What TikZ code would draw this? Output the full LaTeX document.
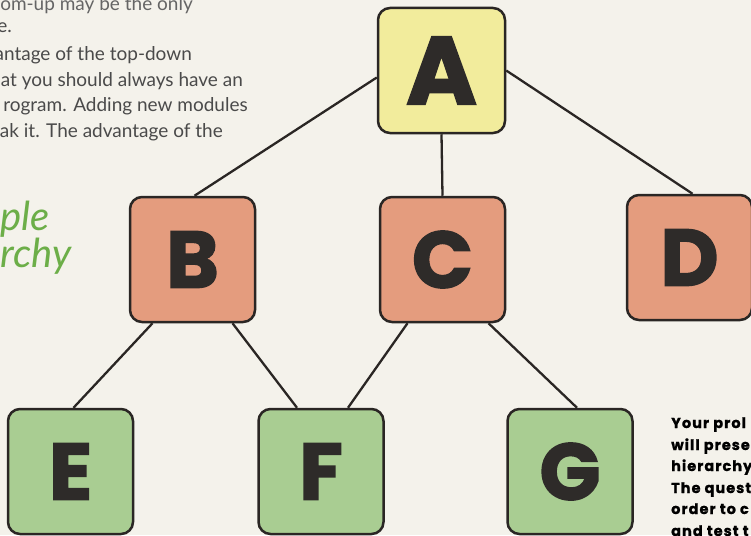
\documentclass[tikz,border=0pt]{standalone}
\usepackage{fontspec}
\setmainfont{Lato}
\newfontfamily\heavy{Poppins}[BoldFeatures={FakeBold=2}]
\newfontfamily\sidefont{Poppins}[LetterSpace=7, BoldFeatures={FakeBold=1}]
\newfontfamily\bodyfont{Lato}
\newfontfamily\titlefont{Lato}
\definecolor{bgcol}{HTML}{F4F2EB}
\definecolor{edgecol}{HTML}{2A2624}
\definecolor{yelfill}{HTML}{F2EC9C}
\definecolor{redfill}{HTML}{E49C7E}
\definecolor{grnfill}{HTML}{A9CD92}
\definecolor{lettercol}{HTML}{2E2B29}
\definecolor{bodycol}{HTML}{4A4A4A}
\definecolor{titlecol}{HTML}{6CAE48}
\tikzset{
  modbox/.style={draw=edgecol, line width=2.5pt, rounded corners=12pt,
    minimum width=125pt, minimum height=125pt, inner sep=0pt,
    text=lettercol, font=\heavy\bfseries\fontsize{80}{80}\selectfont},
  topbox/.style={modbox, fill=yelfill, font=\heavy\bfseries\fontsize{96}{96}\selectfont},
  midbox/.style={modbox, fill=redfill},
  lowbox/.style={modbox, fill=grnfill},
  link/.style={draw=edgecol, line width=2.3pt},
  bodyline/.style={anchor=base east, inner sep=0pt, text=bodycol,
    font=\bodyfont\fontsize{19}{19}\selectfont},
  sideline/.style={anchor=base west, inner sep=0pt, text=black,
    font=\sidefont\bfseries\fontsize{14.5}{14.5}\selectfont},
  titleline/.style={anchor=base east, inner sep=0pt, text=titlecol,
    font=\titlefont\itshape\fontsize{40}{40}\selectfont}
}
\begin{document}
\begin{tikzpicture}[x=1pt, y=-1pt]
\useasboundingbox[fill=bgcol] (0,0) rectangle (751,535);
\clip (0,0) rectangle (751,535);
% body text (cut at left)
\node[bodyline, text=bodycol!85] (t1) at (193,11) {tom-up may be the only};
\node[bodyline] (t2) at (12,33) {e.};
\node[bodyline] (t3) at (192,60) {antage of the top-down};
\node[bodyline] (t4) at (243,86) {at you should always have an};
\node[bodyline] (t5) at (248,111) {rogram. Adding new modules};
\node[bodyline] (t6) at (223,137) {eak it. The advantage of the};
% title
\node[titleline] (h1) at (50,230) {ple};
\node[titleline] (h2) at (72,267) {rchy};
% side text
\node[sideline] (s1) at (671,428) {Your prol};
\node[sideline] (s2) at (671,450) {will prese};
\node[sideline] (s3) at (671,471) {hierarchy};
\node[sideline] (s4) at (671,493) {The quest};
\node[sideline] (s5) at (671,514) {order to c};
\node[sideline] (s6) at (671,536) {and test t};
% boxes
\node[topbox, minimum width=127pt] (A) at (441.5,70.5) {A};
\node[midbox] (B) at (192.5,259.5) {B};
\node[midbox] (C) at (442.5,259.5) {C};
\node[midbox] (D) at (689.5,257.5) {D};
\node[lowbox] (E) at (70.5,471.5) {E};
\node[lowbox] (F) at (321,471.5) {F};
\node[lowbox] (G) at (570,471.5) {G};
% links
\draw[link] ([yshift=-7pt]A.west) -- ([xshift=2pt]B.north);
\draw[link] (A.south) -- (C.north);
\draw[link] (A.east) -- ([xshift=3pt]D.north);
\draw[link] ([xshift=-40pt]B.south) -- ([xshift=3pt]E.north);
\draw[link] ([xshift=40pt]B.south) -- ([xshift=-24pt]F.north);
\draw[link] ([xshift=-35pt]C.south) -- ([xshift=27pt]F.north);
\draw[link] ([xshift=46pt]C.south) -- ([xshift=7pt]G.north);
\end{tikzpicture}
\end{document}
